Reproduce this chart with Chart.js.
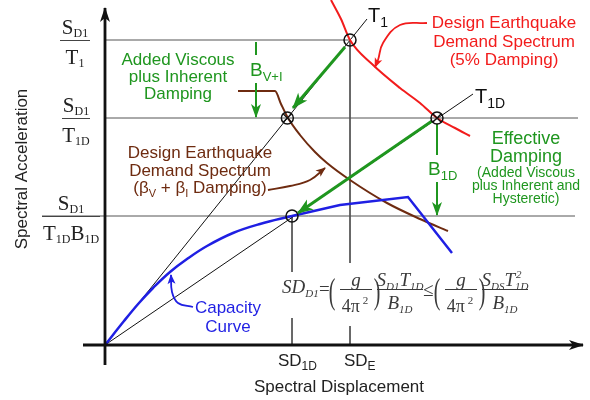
<!DOCTYPE html>
<html>
<head>
<meta charset="utf-8">
<script src="https://cdn.jsdelivr.net/npm/chart.js@4"></script>
<style>
  html, body { margin: 0; padding: 0; background: #fff; }
  #wrap { width: 590px; height: 400px; position: relative; }
</style>
</head>
<body>
<div id="wrap"><canvas id="c"></canvas></div>
<script>
// schematic units: x = spectral displacement, y = spectral acceleration (origin = axes corner)
const accelLevels = [305, 227, 129];   // S_D1/T1, S_D1/T1D, S_D1/(T1D B1D)
const dispLevels = [187, 245];         // SD_1D, SD_E
const t1dDisp = 332;                   // T1D ray meets the 5% spectrum

const demand5X = [226, 236, 245, 267, 295, 315, 332, 350, 365];
const demand5Y = [345, 326, 305, 281, 257, 242, 227, 217, 209];

const demandDX = [133, 170, 176, 183, 195, 210, 222, 245, 282, 315, 343];
const demandDY = [254, 254, 241, 227, 210, 193, 182, 165, 142, 126, 114];

const capacityX = [0, 19, 34, 48, 65, 82, 102, 128, 155, 187];
const capacityY = [0, 24, 42, 57, 73, 86, 99, 112, 121, 129];
const capacityTailX = [187, 235, 303, 347];
const capacityTailY = [129, 140, 148, 92];

const rayT1End = [262, 326];
const rayT1DEnd = [368, 251];

const RED = '#f21c1c', GREEN = '#1f961f', BROWN = '#6e2b10', BLUE = '#1f1fe3', INK = '#111';
const GRID = '#555';
const SANS = '"Liberation Sans", Arial, sans-serif';
const SERIF = '"Liberation Serif", "Times New Roman", serif';

const zip = (xs, ys) => xs.map((x, i) => ({ x, y: ys[i] }));
const P = (x, y) => ({ x, y });

function line(data, color, width, extra) {
  return Object.assign({
    data, showLine: true, borderColor: color, backgroundColor: color,
    borderWidth: width, pointRadius: 0, tension: 0, borderCapStyle: 'butt'
  }, extra || {});
}

const [aT1, aT1D, aB] = accelLevels;
const [sd1D, sdE] = dispLevels;
const bviDisp = aT1D * sdE / aT1;   // T1 ray at the S_D1/T1D level

// drawn bottom to top, reversed below because Chart.js paints index 0 last
const layers = [
  line([P(0, aT1), P(sdE, aT1)], GRID, 1),
  line([P(0, aT1D), P(473, aT1D)], GRID, 1),
  line([P(-63, aB), P(470, aB)], GRID, 1),
  line([P(sd1D, aB), P(sd1D, 73)], GRID, 1),
  line([P(sd1D, 27), P(sd1D, 0)], GRID, 1),
  line([P(sdE, aT1), P(sdE, 82)], GRID, 1),
  line([P(sdE, 19), P(sdE, 0)], GRID, 1),
  line([P(0, 0), P(rayT1End[0], rayT1End[1])], INK, 1),
  line([P(0, 0), P(rayT1DEnd[0], rayT1DEnd[1])], INK, 1),
  line(zip(demandDX, demandDY), BROWN, 2, { cubicInterpolationMode: 'monotone' }),
  line(zip(demand5X, demand5Y), RED, 2, { cubicInterpolationMode: 'monotone' }),
  line(zip(capacityX, capacityY), BLUE, 2.5, { tension: 0.4 }),
  line(zip(capacityTailX, capacityTailY), BLUE, 2.5),
  // callout arrows
  line([P(322, 322), P(295, 320), P(278, 302), P(273, 285), P(270, 278)], RED, 1.8, { tension: 0.4, arrow: [9, 4] }),
  line([P(163, 155), P(185, 159), P(205, 165), P(220, 177)], BROWN, 1.8, { tension: 0.4, arrow: [9, 4] }),
  line([P(88, 38), P(73, 42), P(67, 53), P(66, 70)], BLUE, 1.8, { tension: 0.4, arrow: [9, 4] }),
  // damping arrows
  line([P(240, 298), P(188, 237)], GREEN, 3, { arrow: [15, 6] }),
  line([P(t1dDisp - 5, aT1D - 3), P(193, 132)], GREEN, 3, { arrow: [15, 6] }),
  line([P(151, aT1 - 2), P(151, 290)], GREEN, 2),
  line([P(151, 262), P(151, aT1D + 1)], GREEN, 2, { arrow: [13, 5] }),
  line([P(t1dDisp, aT1D - 6), P(t1dDisp, 190)], GREEN, 2),
  line([P(t1dDisp, 163), P(t1dDisp, aB + 1)], GREEN, 2, { arrow: [13, 5] }),
  // axes
  line([P(0, -20), P(0, 337)], INK, 2.8, { arrow: [14, 5] }),
  line([P(-22, 0), P(478, 0)], INK, 2.8, { arrow: [14, 5] }),
  // intersection markers
  { data: [P(sdE, aT1), P(bviDisp, aT1D), P(t1dDisp, aT1D), P(sd1D, aB)],
    pointStyle: 'circle', pointRadius: 6, borderColor: INK, borderWidth: 1.5,
    backgroundColor: 'rgba(0,0,0,0)' },
  { data: [P(bviDisp, aT1D), P(t1dDisp, aT1D)],
    pointStyle: 'crossRot', pointRadius: 6, borderColor: INK, borderWidth: 1.3 }
];
const datasets = layers.slice().reverse();

function rich(ctx, x, y, parts, o) {
  const size = o.size, sub = o.sub || Math.round(size * 0.62);
  const st = o.style ? o.style + ' ' : '';
  const fam = o.family || SANS;
  const fontOf = k => st + (k === 'n' ? size : sub) + 'px ' + fam;
  let w = 0;
  const widths = parts.map(([t, k]) => { ctx.font = fontOf(k || 'n'); const m = ctx.measureText(t).width; w += m; return m; });
  let cx = o.align === 'center' ? x - w / 2 : x;
  ctx.fillStyle = o.color;
  ctx.textAlign = 'left';
  ctx.textBaseline = 'alphabetic';
  parts.forEach(([t, k], i) => {
    k = k || 'n';
    ctx.font = fontOf(k);
    const dy = k === 'b' ? (o.drop !== undefined ? o.drop : size * 0.28) : k === 'p' ? -size * 0.42 : 0;
    ctx.fillText(t, cx, y + dy);
    cx += widths[i];
  });
  return { start: (o.align === 'center' ? x - w / 2 : x), end: cx, width: w };
}

function lines(ctx, x, y, texts, step, font, color) {
  ctx.font = font; ctx.fillStyle = color; ctx.textAlign = 'center'; ctx.textBaseline = 'alphabetic';
  texts.forEach((t, i) => ctx.fillText(t, x, y + i * step));
}

function fractionTick(ctx, cx, barY, halfW, num, den) {
  ctx.strokeStyle = '#444'; ctx.lineWidth = 1;
  ctx.beginPath(); ctx.moveTo(cx - halfW, barY + 0.5); ctx.lineTo(cx + halfW, barY + 0.5); ctx.stroke();
  const o = { size: 21, sub: 12, family: SERIF, align: 'center', color: '#222', drop: 3 };
  rich(ctx, cx, barY - 6, num, o);
  rich(ctx, cx, barY + 24, den, o);
}

function formula(ctx, ox, oy) {
  const c = '#3a3a3a';
  const it = { size: 19, sub: 11, family: SERIF, style: 'italic', color: c, drop: 4 };
  const up = { size: 18, sub: 11, family: SERIF, color: c };
  const bar = (a, b) => { ctx.strokeStyle = c; ctx.lineWidth = 1; ctx.beginPath(); ctx.moveTo(ox + a, oy - 3.5); ctx.lineTo(ox + b, oy - 3.5); ctx.stroke(); };
  const paren = (x, t) => {
    ctx.save();
    ctx.translate(ox + x, oy + 10);
    ctx.scale(0.55, 1);
    ctx.font = '36px ' + SERIF; ctx.fillStyle = c; ctx.textAlign = 'center';
    ctx.fillText(t, 0, 0);
    ctx.restore();
  };
  const gOver4pi = (x0) => {
    paren(x0 + 4, '(');
    rich(ctx, ox + x0 + 28, oy - 7, [['g']], Object.assign({}, it, { align: 'center' }));
    bar(x0 + 12, x0 + 44);
    rich(ctx, ox + x0 + 27, oy + 19, [['4\u03c0'], [' 2', 'p']], Object.assign({}, up, { align: 'center' }));
    paren(x0 + 49, ')');
  };
  rich(ctx, ox, oy, [['SD'], ['D1', 'b']], it);
  ctx.font = '19px ' + SERIF; ctx.fillStyle = c; ctx.textAlign = 'left'; ctx.fillText('=', ox + 37, oy + 2);
  gOver4pi(46);
  rich(ctx, ox + 118, oy - 7, [['S'], ['D1', 'b'], ['T'], ['1D', 'b']], Object.assign({}, it, { align: 'center' }));
  bar(95, 141);
  rich(ctx, ox + 118, oy + 16, [['B'], ['1D', 'b']], Object.assign({}, it, { align: 'center' }));
  ctx.font = '19px ' + SERIF; ctx.fillStyle = c; ctx.textAlign = 'left'; ctx.fillText('\u2264', ox + 141, oy + 3);
  gOver4pi(151);
  // S_DS T^2_1D
  ctx.font = 'italic 11px ' + SERIF;
  const subW = ctx.measureText('1D').width;
  ctx.font = 'italic 19px ' + SERIF;
  const mainW = ctx.measureText('ST').width;
  ctx.font = 'italic 11px ' + SERIF;
  const dsW = ctx.measureText('DS').width;
  const start = ox + 223 - (mainW + dsW + subW) / 2;
  const r = rich(ctx, start, oy - 7, [['S'], ['DS', 'b'], ['T']], it);
  ctx.font = 'italic 11px ' + SERIF; ctx.fillStyle = c;
  ctx.fillText('2', r.end + 1, oy - 15);
  ctx.fillText('1D', r.end, oy - 3);
  bar(200, 246);
  rich(ctx, ox + 223, oy + 16, [['B'], ['1D', 'b']], Object.assign({}, it, { align: 'center' }));
}

const diagram = {
  id: 'diagram',
  afterDatasetsDraw(chart) {
    const ctx = chart.ctx;
    chart.data.datasets.forEach((ds, i) => {
      if (!ds.arrow) return;
      const pts = chart.getDatasetMeta(i).data;
      const tip = pts[pts.length - 1];
      let bx, by;
      if (tip.cp1x !== undefined && (Math.abs(tip.cp1x - tip.x) + Math.abs(tip.cp1y - tip.y)) > 0.5) {
        bx = tip.cp1x; by = tip.cp1y;
      } else {
        bx = pts[pts.length - 2].x; by = pts[pts.length - 2].y;
      }
      const [len, w] = ds.arrow;
      ctx.save();
      ctx.translate(tip.x, tip.y);
      ctx.rotate(Math.atan2(tip.y - by, tip.x - bx));
      ctx.beginPath();
      ctx.moveTo(1, 0); ctx.lineTo(-len, -w); ctx.lineTo(-len * 0.72, 0); ctx.lineTo(-len, w);
      ctx.closePath();
      ctx.fillStyle = ds.borderColor;
      ctx.fill();
      ctx.restore();
    });
  },
  afterDraw(chart) {
    const ctx = chart.ctx;
    const X = v => chart.scales.x.getPixelForValue(v);
    const Y = v => chart.scales.y.getPixelForValue(v);
    ctx.save();

    // axis titles
    ctx.save();
    ctx.translate(X(-83), Y(176));
    ctx.rotate(-Math.PI / 2);
    ctx.font = '17px ' + SANS; ctx.fillStyle = '#222'; ctx.textAlign = 'center'; ctx.textBaseline = 'middle';
    ctx.fillText('Spectral Acceleration', 0, 0);
    ctx.restore();
    lines(ctx, X(234), Y(-47), ['Spectral Displacement'], 0, '17px ' + SANS, '#222');

    // acceleration levels
    fractionTick(ctx, X(-30), Y(aT1), 15, [['S'], ['D1', 'b']], [['T'], ['1', 'b']]);
    fractionTick(ctx, X(-29), Y(aT1D), 14, [['S'], ['D1', 'b']], [['T'], ['1D', 'b']]);
    fractionTick(ctx, X(-34), Y(aB), 29, [['S'], ['D1', 'b']], [['T'], ['1D', 'b'], ['B'], ['1D', 'b']]);

    // displacement labels
    const sansLbl = { size: 17, sub: 12, color: '#222', drop: 4 };
    rich(ctx, X(173), Y(-21), [['SD'], ['1D', 'b']], sansLbl);
    rich(ctx, X(239), Y(-21), [['SD'], ['E', 'b']], sansLbl);

    // period labels
    const perLbl = { size: 20, sub: 14, color: '#111', drop: 5 };
    rich(ctx, X(263), Y(323), [['T'], ['1', 'b']], perLbl);
    rich(ctx, X(370), Y(242), [['T'], ['1D', 'b']], perLbl);

    // red spectrum note
    lines(ctx, X(399), Y(317), ['Design Earthquake', 'Demand Spectrum', '(5% Damping)'], 18.5, '17px ' + SANS, RED);

    // added viscous
    lines(ctx, X(73), Y(280), ['Added Viscous', 'plus Inherent', 'Damping'], 17, '17px ' + SANS, GREEN);
    rich(ctx, X(145), Y(269), [['B'], ['V+I', 'b']], { size: 19, sub: 13, color: GREEN, drop: 5 });

    // brown spectrum note
    lines(ctx, X(95), Y(187), ['Design Earthquake', 'Demand Spectrum'], 17.5, '17px ' + SANS, BROWN);
    rich(ctx, X(95), Y(152), [['(\u03b2'], ['V', 'b'], [' + \u03b2'], ['I', 'b'], [' Damping)']],
      { size: 17, sub: 11, color: BROWN, align: 'center', drop: 4 });

    // effective damping
    lines(ctx, X(421), Y(201), ['Effective', 'Damping'], 17.5, '18px ' + SANS, GREEN);
    lines(ctx, X(421), Y(168), ['(Added Viscous', 'plus Inherent and', 'Hysteretic)'], 12.8, '14px ' + SANS, GREEN);
    rich(ctx, X(323), Y(170), [['B'], ['1D', 'b']], { size: 19, sub: 13, color: GREEN, drop: 5 });

    // capacity
    lines(ctx, X(123), Y(32), ['Capacity', 'Curve'], 19, '17px ' + SANS, BLUE);

    formula(ctx, X(177), Y(52));
    ctx.restore();
  }
};

new Chart(document.getElementById('c'), {
  type: 'scatter',
  data: { datasets },
  options: {
    responsive: true,
    maintainAspectRatio: false,
    animation: false,
    events: [],
    layout: { padding: 0, autoPadding: false },
    scales: {
      x: { type: 'linear', min: -105, max: 485, display: false },
      y: { type: 'linear', min: -55, max: 345, display: false }
    },
    plugins: { legend: { display: false }, tooltip: { enabled: false } }
  },
  plugins: [diagram]
});
</script>
</body>
</html>
